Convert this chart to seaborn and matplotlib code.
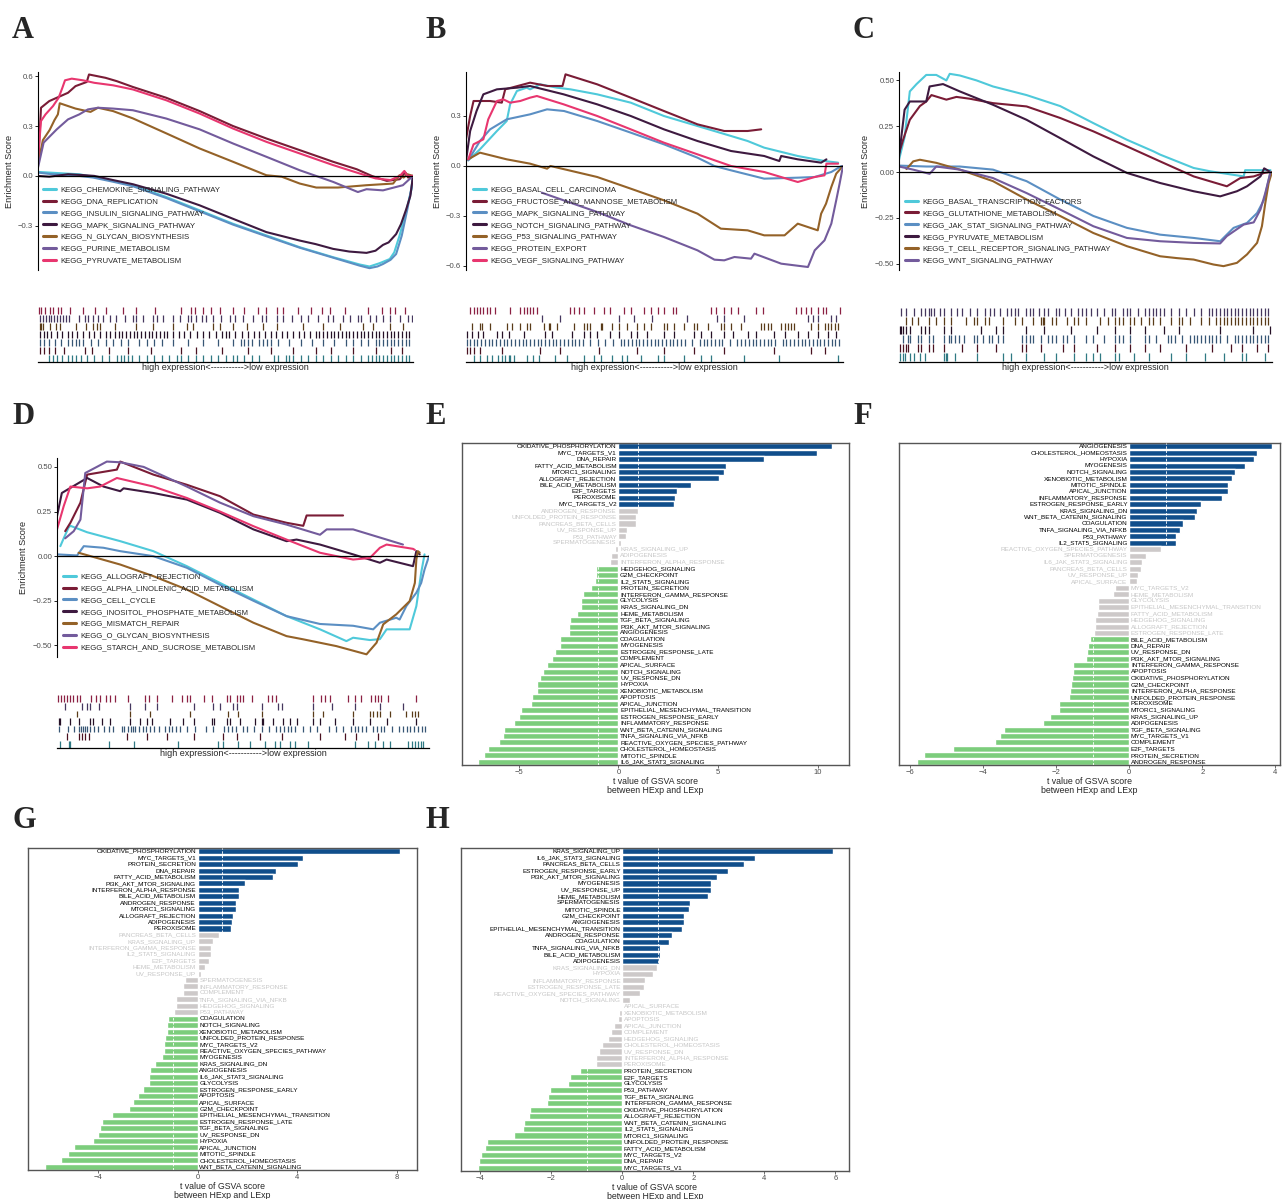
import matplotlib
matplotlib.use("Agg")
import matplotlib.pyplot as plt
from matplotlib.lines import Line2D
import matplotlib.colors as mcolors
import pandas as pd
import seaborn as sns

# ------------------------------------------------------------------ DATA
# ---- GSEA panel A
A_labels = ["KEGG_CHEMOKINE_SIGNALING_PATHWAY", "KEGG_DNA_REPLICATION", "KEGG_INSULIN_SIGNALING_PATHWAY",
            "KEGG_MAPK_SIGNALING_PATHWAY", "KEGG_N_GLYCAN_BIOSYNTHESIS", "KEGG_PURINE_METABOLISM",
            "KEGG_PYRUVATE_METABOLISM"]
A1 = [(0,0.024),(3,0.02),(7.6,0.014),(11,0.01),(14.7,-0.006),(20,-0.03),(25.3,-0.056),(34.2,-0.127),(43.1,-0.207),(52,-0.288),(60.9,-0.358),(69.8,-0.429),(78.7,-0.489),(85.8,-0.533),(88.4,-0.545),(91.1,-0.525),(93.8,-0.5),(95,-0.46),(96.4,-0.36),(98.2,-0.21),(99.6,-0.08),(100,0)]
A2 = [(0,0.06),(0.8,0.41),(3,0.45),(6,0.48),(8,0.50),(10,0.54),(13,0.565),(13.6,0.61),(18,0.59),(21,0.57),(25.3,0.535),(34.2,0.47),(43.1,0.39),(52,0.30),(60.9,0.225),(69.8,0.155),(78.7,0.085),(85,0.04),(89,0.0),(93,-0.03),(96.5,-0.02),(97.5,0.01),(98,0.02),(98.7,-0.01),(100,0)]
A3 = [(0,0.02),(3,0.012),(7.6,0.005),(11,0.0),(14.7,-0.01),(20,-0.035),(25.3,-0.062),(34.2,-0.133),(43.1,-0.213),(52,-0.293),(60.9,-0.363),(69.8,-0.432),(78.7,-0.492),(85.8,-0.54),(88.4,-0.555),(90.5,-0.545),(92,-0.53),(94,-0.505),(95.5,-0.47),(97,-0.36),(98.5,-0.2),(99.6,-0.07),(100,0)]
A4 = [(0,0.0),(3,-0.005),(8,0.01),(12,0.005),(15,0.0),(20,-0.025),(25.3,-0.05),(34.2,-0.107),(43.1,-0.177),(52,-0.258),(60.9,-0.338),(69.8,-0.389),(74,-0.41),(78.7,-0.439),(83,-0.455),(87.6,-0.463),(90,-0.45),(92,-0.415),(93.5,-0.40),(95.5,-0.35),(96.8,-0.29),(98.2,-0.2),(99.3,-0.12),(100,0)]
A5 = [(0,0.07),(1.3,0.215),(3.1,0.276),(4.4,0.336),(5.3,0.37),(5.8,0.437),(10,0.405),(14,0.385),(16,0.41),(20,0.39),(25.3,0.346),(34.2,0.256),(43.1,0.165),(52,0.085),(60.9,0.004),(65,-0.005),(69.8,-0.046),(74.2,-0.07),(80,-0.07),(87.6,-0.056),(94.7,-0.046),(96.4,0.004),(97.5,-0.01),(98.5,0.01),(100,0)]
A6 = [(0,0.05),(1.5,0.2),(5,0.28),(8,0.34),(11,0.37),(13.3,0.40),(16,0.41),(20,0.405),(25.3,0.395),(34.2,0.345),(43.1,0.28),(52,0.195),(60.9,0.115),(69.8,0.034),(78.7,-0.036),(85.3,-0.097),(87.6,-0.08),(92,-0.087),(97.3,-0.056),(100,0)]
A7 = [(0,0.1),(0.8,0.33),(2,0.37),(4,0.42),(5.5,0.47),(6.5,0.53),(7.2,0.575),(9,0.585),(12,0.575),(15,0.56),(20,0.545),(25.3,0.52),(34.2,0.455),(43.1,0.375),(52,0.285),(60.9,0.205),(69.8,0.135),(78.7,0.065),(85,0.02),(90,-0.015),(94,-0.025),(96.5,0.0),(97.7,0.03),(98.5,0.0),(100,0)]
A_hits1 = [3,4,5,6.5,8,9,10,11.5,13,15,17,19,21,22,23,24,25,27,29,31,33,35,37,38,40,42,44,46,48,50,52,53,55,57,59,63,64,66,67,68,70,72,74,76,78,80,82,84,86,88,89,90,91,92,93,94,95,96,97,98,99]
A_hits2 = [0.4,1.5,2.8,4.5,7,12.5,14.5,19,24,30,38,42,49,56,62,68,74,78,84,90,94,97]
A_hits3 = [0.5,1.5,3,4.5,6,8,9,10,11,12,14,16,18,20,22,24,27,29,31,33,36,40,44,48,52,54,55,56,57,59,60,61,62,64,67,70,73,76,79,82,84,86,88,90,91,92,93,94,95,96,97,98,99]
A_hits4 = [0.5,1.5,2.5,3.5,5,6.5,8,9,10.5,12,13.5,15,16.5,18,19.3,20.5,21.5,22.5,23.5,24.5,25.5,26.5,27.5,28.5,29.5,30.5,31.5,32.5,33.5,34.5,36,37.5,39,40.5,42.5,44,45.5,47.5,49,50,51,52.5,54.5,56,57.5,59,60.5,62,63.5,65,66.5,68,69.5,71,72.5,74,75,76,77,78,79,80,81,82,83,84,85,86,87,88,89,90,91,92,93,94,95,96,97,98,99]
A_hits5 = [0.4,0.9,1.3,3.1,4.9,5.8,10.2,12.9,14.7,15.6,16.4,20.4,26.2,30.7,36,39.6,41.3,46.7,48.4,52,55.6,60,63.6,70.7,76,80.4,86.7,89.3,93.8,97.3]
A_hits6 = [0.5,1.2,2,2.8,3.5,4.3,5,5.8,6.6,7.4,8.2,11,12.4,13.3,14.7,16,17.3,19.1,20.9,23.1,25.3,26.2,28,30.7,31.6,33.3,36,37.8,40,40.9,42.2,43.6,44.9,46.7,48.9,51.1,52.4,54.7,57.3,59.6,60.9,63.6,65.3,67.6,70.2,72,74.7,77.3,78.7,81.3,83.1,85.3,86.2,88.4,90.2,92,93.8,96.4,98.7,99.6]
A_hits7 = [0.3,0.9,1.8,3.1,4,5.3,6.2,8.4,12,15.1,18.2,22.7,26.2,31.1,38.2,40.9,41.8,44,46.2,48.4,52,55,58.7,60.9,63.6,65.3,69.3,72.9,75.6,77.8,81.8,88,91.6,93.8,95.1,97.8]

# ---- GSEA panel B
B_labels = ["KEGG_BASAL_CELL_CARCINOMA", "KEGG_FRUCTOSE_AND_MANNOSE_METABOLISM", "KEGG_MAPK_SIGNALING_PATHWAY",
            "KEGG_NOTCH_SIGNALING_PATHWAY", "KEGG_P53_SIGNALING_PATHWAY", "KEGG_PROTEIN_EXPORT",
            "KEGG_VEGF_SIGNALING_PATHWAY"]
B1 = [(0.6,0.034),(3.7,0.10),(8.2,0.21),(10.8,0.27),(11.7,0.37),(13.5,0.45),(16.1,0.47),(17,0.46),(19.7,0.49),(24.1,0.47),(27.7,0.46),(34.8,0.43),(43.7,0.38),(52.5,0.30),(61.4,0.24),(70.3,0.18),(74.7,0.15),(79.1,0.11),(88,0.06),(95.1,0.03),(98.7,0.02)]
B2 = [(0,0.16),(1.1,0.30),(2,0.39),(6.4,0.39),(9.5,0.38),(10.4,0.46),(17,0.50),(21.6,0.48),(25.6,0.48),(26.4,0.55),(34.8,0.49),(43.7,0.41),(52.5,0.33),(61.4,0.25),(68.5,0.21),(74.7,0.21),(78.3,0.22)]
B3 = [(0.6,0.034),(3.7,0.15),(6.4,0.22),(10.8,0.28),(17,0.31),(21.5,0.34),(26,0.33),(34.8,0.27),(43.7,0.20),(52.5,0.13),(61.4,0.05),(65.9,0.0),(70.3,-0.026),(79.1,-0.076),(88,-0.07),(92.5,-0.066),(96.9,-0.036),(99.6,0.0)]
B4 = [(0,0.03),(1.1,0.21),(2.8,0.33),(4.6,0.43),(8.2,0.46),(13.5,0.47),(17,0.48),(25.9,0.43),(34.8,0.37),(43.7,0.30),(52.5,0.22),(61.4,0.15),(70.3,0.09),(79.1,0.06),(83.1,0.03),(83.6,0.06),(88,0.04),(94.2,0.02),(95.6,0.04)]
B5 = [(0.6,0.04),(3.7,0.08),(10.8,0.04),(17,0.014),(21.5,-0.016),(22.4,0.0),(34.8,-0.066),(43.7,-0.136),(52.5,-0.206),(61.4,-0.286),(67.6,-0.376),(74.7,-0.386),(79.1,-0.416),(84.5,-0.416),(88,-0.346),(93.3,-0.386),(94.2,-0.286),(95.5,-0.226),(96.9,-0.126),(98.2,-0.046),(100,0.0)]
B6 = [(20.1,-0.16),(25.9,-0.206),(34.8,-0.276),(43.7,-0.356),(52.5,-0.426),(61.4,-0.506),(65.9,-0.562),(68.5,-0.566),(71.2,-0.546),(75.6,-0.556),(76.5,-0.526),(83.6,-0.586),(90.7,-0.606),(92.5,-0.506),(95.1,-0.446),(96.9,-0.346),(98.2,-0.206),(99.1,-0.106),(100,0.0)]
B7 = [(0.6,0.04),(2,0.13),(4.6,0.16),(5.9,0.28),(8.2,0.39),(9.9,0.40),(11.7,0.38),(14.4,0.39),(17,0.41),(18.8,0.42),(25.9,0.37),(34.8,0.30),(43.7,0.22),(52.5,0.14),(61.4,0.07),(70.3,0.0),(79.1,-0.036),(88,-0.096),(92.5,-0.066),(95.1,-0.056),(95.6,0.014),(98.7,0.014)]
B_hits1 = [2,3.7,5.5,6.8,8.6,9.5,10.4,11.3,11.7,12.6,16.1,17.9,19.3,23.7,26.8,31.2,33.9,35.7,38.8,41.4,42.8,46.3,50.8,52.6,57.9,62.3,64.9,73.8,83.1,98.7]
B_hits2 = [0.2,1.1,2,3.7,9.5,19.7,25,35.2,45.4,52.5,60.5,68.5,81.8,91.6,95.1]
B_hits3 = [0.3,1,2,3,4,5,6,7,8,9,10,11,12,13,14,15,16,17,18,19,20,21,22,23,24,25,26,27,28,29,30,31,33,35,37,39,41,42,43,44,45,46,47,48,49,50,51,52,53,54,55,56,57,58,60,62,63,64,65,66,67,68,70,72,73,74,75,76,77,78,79,80,81,82,84,85,86,87,88,89,90,91,92,93,94,95,96,97,98,99]
B_hits4 = [0.2,1.5,3.3,4.6,8.2,9.5,11.3,15.3,21,22.8,28.1,31.2,33,34.8,38.3,40.6,43.7,45.4,48.1,52.5,55.2,60.5,62.3,64.9,68.5,70.7,74.7,76.9,81.8,84.5,88,90.7,93.3,96,98.2]
B_hits5 = [1.5,3.7,4.2,6.4,10.8,12.2,14.4,16.1,17,20.6,21.9,22.4,24.1,28.6,31.2,32.1,33,35.7,36.1,38.8,40.6,42.8,45.4,47.2,49,52.6,53.4,55.2,57.9,60.5,61.4,64.1,67.6,68.5,70.3,72.9,78.3,79.1,80,80.9,83.6,84.5,85.4,86.3,87.1,91.6,93.3,95.1,96,96.9,97.8,98.7]
B_hits6 = [20.1,25,40.6,44.5,49.4,58.7,66.7,68.5,73.8,90.7,92,93.3,96.9,98.2]
B_hits7 = [1.1,2,2.9,3.7,4.6,5.5,6.4,7.7,11.7,14.4,15.3,16.1,17,17.9,18.8,27.7,28.6,29.9,31.2,33.9,36.6,38.3,41.9,43.7,47.2,49,50.8,52.6,54.8,55.7,65,66.3,68.5,70.3,72.1,77,78.7,87.6,88.9,90.2,91.5,93.3,94.7,95.6,99.1]

# ---- GSEA panel C
C_labels = ["KEGG_BASAL_TRANSCRIPTION_FACTORS", "KEGG_GLUTATHIONE_METABOLISM", "KEGG_JAK_STAT_SIGNALING_PATHWAY",
            "KEGG_PYRUVATE_METABOLISM", "KEGG_T_CELL_RECEPTOR_SIGNALING_PATHWAY", "KEGG_WNT_SIGNALING_PATHWAY"]
C1 = [(0,0.067),(1.5,0.19),(2.9,0.44),(4.7,0.48),(7.3,0.53),(10,0.53),(12.7,0.50),(13.6,0.536),(16.3,0.527),(20.8,0.50),(25.2,0.467),(34.2,0.42),(43.2,0.36),(52.1,0.267),(61.1,0.176),(68.2,0.113),(70,0.095),(79,0.022),(83.4,0.004),(92.4,-0.024),(92.8,0.01),(99.6,0.01)]
C2 = [(0,0.10),(1.1,0.176),(2.9,0.285),(5.6,0.36),(7.3,0.385),(8.7,0.42),(12.7,0.395),(15.4,0.41),(19,0.40),(25.2,0.376),(34.2,0.358),(43.2,0.295),(52.1,0.222),(61.1,0.14),(70,0.058),(79,-0.024),(87.9,-0.078),(91.5,-0.033),(95.1,-0.024),(97.9,-0.005),(99.6,0.0)]
C3 = [(0,0.035),(7.3,0.03),(16.3,0.03),(25.2,0.013),(34.2,-0.05),(43.2,-0.15),(52.1,-0.24),(61.1,-0.305),(70,-0.342),(79,-0.36),(86.1,-0.378),(89.7,-0.305),(93.3,-0.278),(96,-0.224),(97.9,-0.15),(99.6,0.0)]
C4 = [(0,0.085),(1.5,0.34),(2.9,0.385),(7.3,0.385),(8.2,0.467),(11.8,0.48),(16.3,0.44),(25.2,0.367),(34.2,0.285),(43.2,0.185),(52.1,0.085),(61.1,-0.005),(70,-0.06),(79,-0.105),(86.1,-0.133),(90.6,-0.105),(93.3,-0.078),(96.9,-0.024),(97.9,0.02),(99.6,0.0)]
C5 = [(2,0.016),(3.8,0.058),(5.6,0.067),(10,0.05),(16.3,0.013),(25.2,-0.05),(34.2,-0.15),(43.2,-0.24),(52.1,-0.333),(61.1,-0.405),(70,-0.46),(74.5,-0.47),(79,-0.478),(84.3,-0.505),(87,-0.514),(90.6,-0.496),(93.3,-0.45),(96,-0.387),(97.3,-0.296),(98.2,-0.17),(99.1,-0.06),(100,0.0)]
C6 = [(0,0.03),(3.8,0.013),(8.2,-0.01),(10,0.03),(16.3,0.013),(25.2,-0.033),(34.2,-0.115),(43.2,-0.205),(52.1,-0.296),(61.1,-0.36),(70,-0.378),(79,-0.387),(86.1,-0.39),(87.9,-0.35),(92.4,-0.287),(95.1,-0.275),(96.9,-0.205),(98.2,-0.115),(99.6,0.0)]
C_hits1 = [0.2,1,1.5,3,4,5.5,7,12,12.5,13,15,21,28,30,34,39,42,47,50,52,54,58,59,63,67,73,77,82,87,92,93,98]
C_hits2 = [0.2,1,2,2.5,5,6,8,9,12,17,21,26,33,34,38,44,47,53,58,62,66,70,77,84,89,92,96,99]
C_hits3 = [1,2.5,3,5,6,8,9,12,13.5,14,15,16,17.5,20,21,22.5,24,25,26.5,28,33,34,35,36,38,40,41,42,44,45,47,50,52,55,58,59,60,62,66,67,69,72,73,74,76,78,79,80,81,82,83,84,85,86,88,90,91,92,93,94,95,96,97,98,99]
C_hits4 = [0.2,0.6,1,2,3,6,7,8,12,14,22,26,28,34,39,46,53,58,62,66,71,75,86,95,99.5]
C_hits5 = [2,3.5,5,8,10,12,14,18,20,21,23,24,28,31,33,36,38,38.5,39,41,42,45,47,48,50,54,56,58,59,60,62,63,65,67,68,70,73,75,76,78,81,83,85,86,87,88,89,90,91,92,93,94,95,96,97,98,99]
C_hits6 = [0.5,2,4,6,7,8,8.5,9.5,11,12,14,15.5,17,19,21,23,24.5,25.5,27,29,30,31,32,34,35,36,37.5,39,40,42,43,44.5,46,48,49,50,51.5,53,55,57,58,60,61,62,64,66,67,68,69,70,71,73,75,77,79,81,83,84,85,86,87,88,89,90,91,92,93,94,95,96,97,98,99]

# ---- GSEA panel D
D_labels = ["KEGG_ALLOGRAFT_REJECTION", "KEGG_ALPHA_LINOLENIC_ACID_METABOLISM", "KEGG_CELL_CYCLE",
            "KEGG_INOSITOL_PHOSPHATE_METABOLISM", "KEGG_MISMATCH_REPAIR", "KEGG_O_GLYCAN_BIOSYNTHESIS",
            "KEGG_STARCH_AND_SUCROSE_METABOLISM"]
D1 = [(0.9,0.056),(1.8,0.10),(3.1,0.16),(3.6,0.17),(8.1,0.134),(17,0.084),(25.9,0.028),(34.9,-0.056),(43.8,-0.15),(52.8,-0.243),(61.7,-0.336),(70.7,-0.41),(77.8,-0.476),(79.6,-0.457),(84.1,-0.47),(86.8,-0.465),(88.6,-0.41),(94.8,-0.41),(96.6,-0.28),(97.9,-0.093),(98.8,0.01)]
D2 = [(2.2,0.14),(3.6,0.187),(6.3,0.30),(8.1,0.457),(16.1,0.485),(17,0.53),(25.9,0.457),(34.9,0.40),(43.8,0.336),(52.8,0.233),(61.7,0.187),(66.2,0.17),(67.1,0.228),(76.9,0.228)]
D3 = [(0,0.01),(5.4,0.004),(7.2,0.056),(12.5,0.047),(17,0.028),(25.9,0.0),(34.9,-0.065),(43.8,-0.16),(52.8,-0.25),(61.7,-0.336),(70.7,-0.38),(79.6,-0.39),(85,-0.41),(86.8,-0.373),(91.2,-0.345),(92.1,-0.355),(93.9,-0.28),(96.6,-0.205),(97.9,-0.15),(98.8,-0.075),(100,0.0)]
D4 = [(0,0.224),(1.3,0.354),(8.1,0.438),(12.5,0.39),(17,0.364),(17.9,0.38),(25.9,0.354),(34.9,0.317),(43.8,0.243),(52.8,0.15),(61.7,0.084),(64.4,0.093),(70.7,0.065),(79.6,0.01),(86.8,-0.037),(88.6,-0.019),(95.7,-0.056),(96.6,0.028),(97.5,0.01)]
D5 = [(5.8,0.019),(17,-0.047),(25.9,-0.112),(34.9,-0.187),(43.8,-0.28),(52.8,-0.373),(61.7,-0.448),(66.2,-0.466),(75.1,-0.504),(83.2,-0.55),(85.9,-0.485),(87.7,-0.382),(91.2,-0.326),(94.8,-0.252),(96.2,-0.15),(96.6,-0.019),(97,0.028),(97.5,0.02)]
D6 = [(2.2,0.10),(4.5,0.14),(6.3,0.205),(7.6,0.466),(10.7,0.50),(13.4,0.53),(17,0.526),(23.3,0.50),(34.9,0.39),(43.8,0.30),(52.8,0.224),(61.7,0.177),(70.7,0.12),(72.5,0.15),(79.6,0.15),(88.6,0.093),(93,0.065)]
D7 = [(0,0.15),(1.8,0.28),(3.6,0.39),(8.1,0.38),(11.6,0.39),(16.1,0.438),(25.9,0.39),(34.9,0.326),(43.8,0.25),(52.8,0.168),(61.7,0.093),(70.7,0.019),(79.6,-0.019),(84.1,-0.01),(86.8,0.047),(88.6,0.065),(95.7,0.041),(96.2,0.035)]
D_hits1 = [0.9,3.1,3.6,13.9,20.6,32.6,43.4,44.7,48.7,51.9,55.9,58.6,59.9,62.6,63.9,67.5,80.1,83.7,85.5,87.7,89.4,94.4,95.3,96.2,97.1,97.9,98.4]
D_hits2 = [2.7,5.8,6.7,7.6,8.5,18.8,24.2,29.5,36.7,44.7,48.3,54.6,60.4,70.7,77.4,80.5,86.3]
D_hits3 = [0.5,3,4.5,6,6.5,7,7.5,8,9,10,11,12.5,14,15,17.5,18,19,20,20.5,21,22,23,24,25,26,27.5,29,30,31,32,33,35,37,40,42,45,46,47,48,50,51,53,55,57,59,60,61,62,63,64,66,68,70,73,75,77,79,80,81,82,83,85,86,87,88,90,92,93,94,95,96,97,98,99]
D_hits4 = [0.5,0.9,3.6,5.8,8.9,9.8,12.1,14.3,19.7,22.4,24.2,25.5,30.4,34,36.7,41.6,42.1,45.6,46.5,49.2,53.2,55,55.4,58.1,60.8,62.6,64.4,68.9,70.7,74.7,79.6,84.1,88.6,96.6]
D_hits5 = [5.4,19.7,25,35.8,46.1,48.7,55,68.9,71.6,79.6,84.1,85,85.9,86.8,89.4,93.9,95.3,96.2,97]
D_hits6 = [2.2,6.7,8.1,8.9,11.2,19.7,23.7,26.8,36.7,42,43.8,47.4,48.3,55,59.5,60.4,68.9,73.8,80.1,86.8,93]
D_hits7 = [0.2,1.1,2,2.7,3.6,4.3,5.4,6.1,9.1,10.6,11.6,13.2,14.3,15.7,19.2,23.7,24.6,26.8,30.9,33.5,34.9,35.8,39.4,41.6,45.6,46.5,48.3,49.2,50.1,52.3,56.8,57.7,59,68.9,71.1,72,73.3,78.3,80,81.8,84.5,85.4,86.3,87.2,89,96.6]

# ---- GSVA bar panels (t values)
E_names = ["OXIDATIVE_PHOSPHORYLATION","MYC_TARGETS_V1","DNA_REPAIR","FATTY_ACID_METABOLISM","MTORC1_SIGNALING",
           "ALLOGRAFT_REJECTION","BILE_ACID_METABOLISM","E2F_TARGETS","PEROXISOME","MYC_TARGETS_V2",
           "ANDROGEN_RESPONSE","UNFOLDED_PROTEIN_RESPONSE","PANCREAS_BETA_CELLS","UV_RESPONSE_UP","P53_PATHWAY",
           "SPERMATOGENESIS","KRAS_SIGNALING_UP","ADIPOGENESIS","INTERFERON_ALPHA_RESPONSE","HEDGEHOG_SIGNALING",
           "G2M_CHECKPOINT","IL2_STAT5_SIGNALING","PROTEIN_SECRETION","INTERFERON_GAMMA_RESPONSE","GLYCOLYSIS",
           "KRAS_SIGNALING_DN","HEME_METABOLISM","TGF_BETA_SIGNALING","PI3K_AKT_MTOR_SIGNALING","ANGIOGENESIS",
           "COAGULATION","MYOGENESIS","ESTROGEN_RESPONSE_LATE","COMPLEMENT","APICAL_SURFACE","NOTCH_SIGNALING",
           "UV_RESPONSE_DN","HYPOXIA","XENOBIOTIC_METABOLISM","APOPTOSIS","APICAL_JUNCTION",
           "EPITHELIAL_MESENCHYMAL_TRANSITION","ESTROGEN_RESPONSE_EARLY","INFLAMMATORY_RESPONSE",
           "WNT_BETA_CATENIN_SIGNALING","TNFA_SIGNALING_VIA_NFKB","REACTIVE_OXYGEN_SPECIES_PATHWAY",
           "CHOLESTEROL_HOMEOSTASIS","MITOTIC_SPINDLE","IL6_JAK_STAT3_SIGNALING"]
E_t = [10.72,9.93,7.28,5.38,5.28,5.03,3.63,2.93,2.83,2.78,
       0.98,0.88,0.88,0.43,0.38,0.13,-0.15,-0.37,-0.42,-1.10,
       -1.10,-1.17,-1.37,-1.77,-1.87,-1.87,-2.07,-2.42,-2.47,-2.47,
       -2.92,-2.92,-3.17,-3.32,-3.57,-3.77,-3.92,-4.07,-4.07,-4.32,
       -4.37,-4.87,-4.97,-5.22,-5.73,-5.77,-5.97,-6.52,-6.72,-7.02]

F_names = ["ANGIOGENESIS","CHOLESTEROL_HOMEOSTASIS","HYPOXIA","MYOGENESIS","NOTCH_SIGNALING",
           "XENOBIOTIC_METABOLISM","MITOTIC_SPINDLE","APICAL_JUNCTION","INFLAMMATORY_RESPONSE",
           "ESTROGEN_RESPONSE_EARLY","KRAS_SIGNALING_DN","WNT_BETA_CATENIN_SIGNALING","COAGULATION",
           "TNFA_SIGNALING_VIA_NFKB","P53_PATHWAY","IL2_STAT5_SIGNALING","REACTIVE_OXYGEN_SPECIES_PATHWAY",
           "SPERMATOGENESIS","IL6_JAK_STAT3_SIGNALING","PANCREAS_BETA_CELLS","UV_RESPONSE_UP","APICAL_SURFACE",
           "MYC_TARGETS_V2","HEME_METABOLISM","GLYCOLYSIS","EPITHELIAL_MESENCHYMAL_TRANSITION",
           "FATTY_ACID_METABOLISM","HEDGEHOG_SIGNALING","ALLOGRAFT_REJECTION","ESTROGEN_RESPONSE_LATE",
           "BILE_ACID_METABOLISM","DNA_REPAIR","UV_RESPONSE_DN","PI3K_AKT_MTOR_SIGNALING",
           "INTERFERON_GAMMA_RESPONSE","APOPTOSIS","OXIDATIVE_PHOSPHORYLATION","G2M_CHECKPOINT",
           "INTERFERON_ALPHA_RESPONSE","UNFOLDED_PROTEIN_RESPONSE","PEROXISOME","MTORC1_SIGNALING",
           "KRAS_SIGNALING_UP","ADIPOGENESIS","TGF_BETA_SIGNALING","MYC_TARGETS_V1","COMPLEMENT",
           "E2F_TARGETS","PROTEIN_SECRETION","ANDROGEN_RESPONSE"]
F_t = [3.91,3.50,3.42,3.17,2.89,2.81,2.70,2.70,2.54,1.96,
       1.85,1.80,1.47,1.39,1.28,1.28,0.87,0.45,0.35,0.32,
       0.24,0.20,-0.39,-0.45,-0.86,-0.87,-0.89,-0.94,-0.94,-0.97,
       -1.08,-1.13,-1.16,-1.19,-1.54,-1.54,-1.57,-1.60,-1.63,-1.65,
       -1.93,-1.93,-2.17,-2.37,-3.43,-3.54,-3.68,-4.83,-5.63,-5.82]

G_names = ["OXIDATIVE_PHOSPHORYLATION","MYC_TARGETS_V1","PROTEIN_SECRETION","DNA_REPAIR","FATTY_ACID_METABOLISM",
           "PI3K_AKT_MTOR_SIGNALING","INTERFERON_ALPHA_RESPONSE","BILE_ACID_METABOLISM","ANDROGEN_RESPONSE",
           "MTORC1_SIGNALING","ALLOGRAFT_REJECTION","ADIPOGENESIS","PEROXISOME","PANCREAS_BETA_CELLS",
           "KRAS_SIGNALING_UP","INTERFERON_GAMMA_RESPONSE","IL2_STAT5_SIGNALING","E2F_TARGETS","HEME_METABOLISM",
           "UV_RESPONSE_UP","SPERMATOGENESIS","INFLAMMATORY_RESPONSE","COMPLEMENT","TNFA_SIGNALING_VIA_NFKB",
           "HEDGEHOG_SIGNALING","P53_PATHWAY","COAGULATION","NOTCH_SIGNALING","XENOBIOTIC_METABOLISM",
           "UNFOLDED_PROTEIN_RESPONSE","MYC_TARGETS_V2","REACTIVE_OXYGEN_SPECIES_PATHWAY","MYOGENESIS",
           "KRAS_SIGNALING_DN","ANGIOGENESIS","IL6_JAK_STAT3_SIGNALING","GLYCOLYSIS","ESTROGEN_RESPONSE_EARLY",
           "APOPTOSIS","APICAL_SURFACE","G2M_CHECKPOINT","EPITHELIAL_MESENCHYMAL_TRANSITION",
           "ESTROGEN_RESPONSE_LATE","TGF_BETA_SIGNALING","UV_RESPONSE_DN","HYPOXIA","APICAL_JUNCTION",
           "MITOTIC_SPINDLE","CHOLESTEROL_HOMEOSTASIS","WNT_BETA_CATENIN_SIGNALING"]
G_t = [8.13,4.24,4.04,3.16,3.03,1.91,1.67,1.67,1.55,1.55,
       1.43,1.39,1.35,0.87,0.63,0.55,0.55,0.47,0.31,0.15,
       -0.49,-0.57,-0.57,-0.86,-0.86,-0.94,-1.18,-1.22,-1.22,-1.30,
       -1.34,-1.34,-1.42,-1.70,-1.90,-1.94,-1.94,-2.18,-2.38,-2.58,
       -2.74,-3.42,-3.82,-3.90,-3.98,-4.18,-4.95,-5.19,-5.47,-6.11]

H_names = ["KRAS_SIGNALING_UP","IL6_JAK_STAT3_SIGNALING","PANCREAS_BETA_CELLS","ESTROGEN_RESPONSE_EARLY",
           "PI3K_AKT_MTOR_SIGNALING","MYOGENESIS","UV_RESPONSE_UP","HEME_METABOLISM","SPERMATOGENESIS",
           "MITOTIC_SPINDLE","G2M_CHECKPOINT","ANGIOGENESIS","EPITHELIAL_MESENCHYMAL_TRANSITION",
           "ANDROGEN_RESPONSE","COAGULATION","TNFA_SIGNALING_VIA_NFKB","BILE_ACID_METABOLISM","ADIPOGENESIS",
           "KRAS_SIGNALING_DN","HYPOXIA","INFLAMMATORY_RESPONSE","ESTROGEN_RESPONSE_LATE",
           "REACTIVE_OXYGEN_SPECIES_PATHWAY","NOTCH_SIGNALING","APICAL_SURFACE","XENOBIOTIC_METABOLISM",
           "APOPTOSIS","APICAL_JUNCTION","COMPLEMENT","HEDGEHOG_SIGNALING","CHOLESTEROL_HOMEOSTASIS",
           "UV_RESPONSE_DN","INTERFERON_ALPHA_RESPONSE","PEROXISOME","PROTEIN_SECRETION","E2F_TARGETS",
           "GLYCOLYSIS","P53_PATHWAY","TGF_BETA_SIGNALING","INTERFERON_GAMMA_RESPONSE",
           "OXIDATIVE_PHOSPHORYLATION","ALLOGRAFT_REJECTION","WNT_BETA_CATENIN_SIGNALING","IL2_STAT5_SIGNALING",
           "MTORC1_SIGNALING","UNFOLDED_PROTEIN_RESPONSE","FATTY_ACID_METABOLISM","MYC_TARGETS_V2","DNA_REPAIR",
           "MYC_TARGETS_V1"]
H_t = [5.94,3.74,3.43,2.98,2.67,2.50,2.50,2.42,1.91,1.89,
       1.74,1.74,1.69,1.41,1.32,1.07,1.07,1.04,0.98,0.87,
       0.65,0.62,0.51,0.23,-0.02,-0.08,-0.11,-0.23,-0.31,-0.39,
       -0.56,-0.65,-0.73,-0.73,-1.18,-1.46,-1.52,-2.03,-2.08,-2.11,
       -2.59,-2.62,-2.76,-2.79,-3.04,-3.80,-3.86,-3.97,-4.02,-4.05]

# ------------------------------------------------------------------ STYLE
sns.set_theme(style="white")
plt.rcParams['font.family'] = ['Liberation Sans', 'DejaVu Sans']

W, H = 1282, 1199
fig = plt.figure(figsize=(W / 100, H / 100), dpi=100)
fig.patch.set_facecolor("white")


def rect(x0, y0, x1, y1):
    return [x0 / W, 1 - y1 / H, (x1 - x0) / W, (y1 - y0) / H]


PAL = ["#4FC9DA", "#7A1C36", "#5B8FC3", "#3E1A40", "#946228", "#735B9C", "#E8366F"]
TICKGREY = "#4d4d4d"


def darker(c, f=0.6):
    r, g, b = mcolors.to_rgb(c)
    return (r * f, g * f, b * f)


def gsea_panel(main_px, rug_px, labels, curves, hits, ylim, yticks, ylabels, leg_anchor):
    ax = fig.add_axes(rect(*main_px))
    rows = []
    for lab, pts in zip(labels, curves):
        for x, y in pts:
            rows.append((lab, x, y))
    df = pd.DataFrame(rows, columns=["set", "x", "es"])
    pal = dict(zip(labels, PAL[:len(labels)]))
    sns.lineplot(data=df, x="x", y="es", hue="set", hue_order=labels, palette=pal,
                 estimator=None, sort=False, lw=1.5, legend=False, ax=ax)
    ax.axhline(0, color="black", lw=0.9, zorder=5)
    ax.set_xlim(0, 100)
    ax.set_ylim(*ylim)
    ax.set_yticks(yticks)
    ax.set_yticklabels(ylabels)
    ax.set_xticks([])
    ax.set_xlabel("")
    ax.set_ylabel("Enrichment Score", fontsize=6.6, labelpad=3)
    for s in ["top", "right", "bottom"]:
        ax.spines[s].set_visible(False)
    ax.spines["left"].set_color("black")
    ax.spines["left"].set_linewidth(0.8)
    ax.tick_params(axis="y", left=True, length=2, width=0.6, color="black",
                   labelsize=5.6, labelcolor=TICKGREY, pad=1.5)
    ax.patch.set_alpha(0)
    handles = [Line2D([0], [0], color=pal[l], lw=2.2) for l in labels]
    ax.legend(handles, labels, loc="upper left", bbox_to_anchor=leg_anchor, frameon=False,
              fontsize=5.6, handlelength=1.7, handletextpad=0.5, labelspacing=0.56,
              borderpad=0, borderaxespad=0)

    rx = fig.add_axes(rect(*rug_px))
    n = len(labels)
    for i, (lab, hh) in enumerate(zip(labels, hits)):
        rx.vlines(hh, i + 0.06, i + 0.94, color=darker(pal[lab]), lw=0.9)
    rx.set_xlim(0, 100)
    rx.set_ylim(0, n)
    rx.set_xticks([])
    rx.set_yticks([])
    for s in ["top", "right", "left"]:
        rx.spines[s].set_visible(False)
    rx.spines["bottom"].set_color("black")
    rx.spines["bottom"].set_linewidth(0.9)
    rx.set_xlabel("high expression<----------->low expression", fontsize=6.5, labelpad=1)
    rx.patch.set_alpha(0)


BLUE, GREEN, GREYBAR = "#104E8B", "#7CCD7C", "#CDC9C9"


def bar_panel(px, names, tvals, xlim, xticks):
    ax = fig.add_axes(rect(*px))
    grp = ["up" if t > 1 else ("down" if t < -1 else "ns") for t in tvals]
    df = pd.DataFrame({"name": names, "t": tvals, "grp": grp})
    sns.barplot(data=df, x="t", y="name", hue="grp", order=names,
                palette={"up": BLUE, "down": GREEN, "ns": GREYBAR},
                dodge=False, width=0.94, legend=False, orient="h", ax=ax, saturation=1)
    for v in (-1, 1):
        ax.axvline(v, color="white", ls=(0, (3, 2)), lw=0.6, zorder=4)
    for i, (nm, t, g) in enumerate(zip(names, tvals, grp)):
        col = "black" if g != "ns" else "#c6c6c6"
        if t > 0:
            ax.annotate(nm, xy=(0, i), xytext=(-1.2, 0), textcoords="offset points",
                        ha="right", va="center", fontsize=4.6, color=col, zorder=6)
        else:
            ax.annotate(nm, xy=(0, i), xytext=(1.2, 0), textcoords="offset points",
                        ha="left", va="center", fontsize=4.6, color=col, zorder=6)
    ax.set_ylim(len(names) - 0.5, -0.5)
    ax.set_xlim(*xlim)
    ax.set_yticks([])
    ax.set_ylabel("")
    ax.set_xticks(xticks)
    ax.set_xticklabels([str(x) if x >= 0 else "\u2212" + str(-x) for x in xticks])
    ax.set_xlabel("t value of GSVA score\nbetween HExp and LExp", fontsize=6.3, labelpad=0.5,
                  linespacing=1.0)
    for s in ax.spines.values():
        s.set_visible(True)
        s.set_color("#555555")
        s.set_linewidth(1.0)
    ax.tick_params(axis="x", bottom=True, length=2, width=0.6, color="#555555",
                   labelsize=5.5, labelcolor=TICKGREY, pad=1.2)


# ------------------------------------------------------------------ PANELS
gsea_panel((38, 72, 413, 270), (38, 307, 413, 362), A_labels, [A1, A2, A3, A4, A5, A6, A7],
           [A_hits1, A_hits2, A_hits3, A_hits4, A_hits5, A_hits6, A_hits7],
           (-0.566, 0.625), [-0.3, 0.0, 0.3, 0.6], ["\u22120.3", "0.0", "0.3", "0.6"], (0.013, 0.424))
gsea_panel((466, 72, 843, 270), (466, 307, 843, 362), B_labels, [B1, B2, B3, B4, B5, B6, B7],
           [B_hits1, B_hits2, B_hits3, B_hits4, B_hits5, B_hits6, B_hits7],
           (-0.624, 0.564), [-0.6, -0.3, 0.0, 0.3], ["\u22120.6", "\u22120.3", "0.0", "0.3"], (0.019, 0.424))
gsea_panel((899, 72, 1272, 270), (899, 307, 1272, 362), C_labels, [C1, C2, C3, C4, C5, C6],
           [C_hits1, C_hits2, C_hits3, C_hits4, C_hits5, C_hits6],
           (-0.535, 0.546), [-0.5, -0.25, 0.0, 0.25, 0.5],
           ["\u22120.50", "\u22120.25", "0.00", "0.25", "0.50"], (0.016, 0.364))
gsea_panel((57, 458, 429, 657), (57, 695, 429, 748), D_labels, [D1, D2, D3, D4, D5, D6, D7],
           [D_hits1, D_hits2, D_hits3, D_hits4, D_hits5, D_hits6, D_hits7],
           (-0.565, 0.55), [-0.5, -0.25, 0.0, 0.25, 0.5],
           ["\u22120.50", "\u22120.25", "0.00", "0.25", "0.50"], (0.016, 0.422))

bar_panel((462, 443, 849, 765), E_names, E_t, (-7.83, 11.55), [-5, 0, 5, 10])
bar_panel((899, 443, 1280, 765), F_names, F_t, (-6.31, 4.13), [-6, -4, -2, 0, 2, 4])
bar_panel((28, 848, 417, 1170), G_names, G_t, (-6.80, 8.80), [-4, 0, 4, 8])
bar_panel((461, 848, 849, 1171), H_names, H_t, (-4.54, 6.38), [-4, -2, 0, 2, 4, 6])

for letter, x, y in [("A", 12, 38), ("B", 425, 38), ("C", 853, 38), ("D", 12, 424),
                     ("E", 425, 424), ("F", 853, 424), ("G", 12, 828), ("H", 425, 828)]:
    fig.text(x / W, 1 - y / H, letter, fontsize=22, fontweight="bold",
             family="Liberation Serif", ha="left", va="baseline")

fig.savefig("out.png", dpi=100, facecolor="white")
